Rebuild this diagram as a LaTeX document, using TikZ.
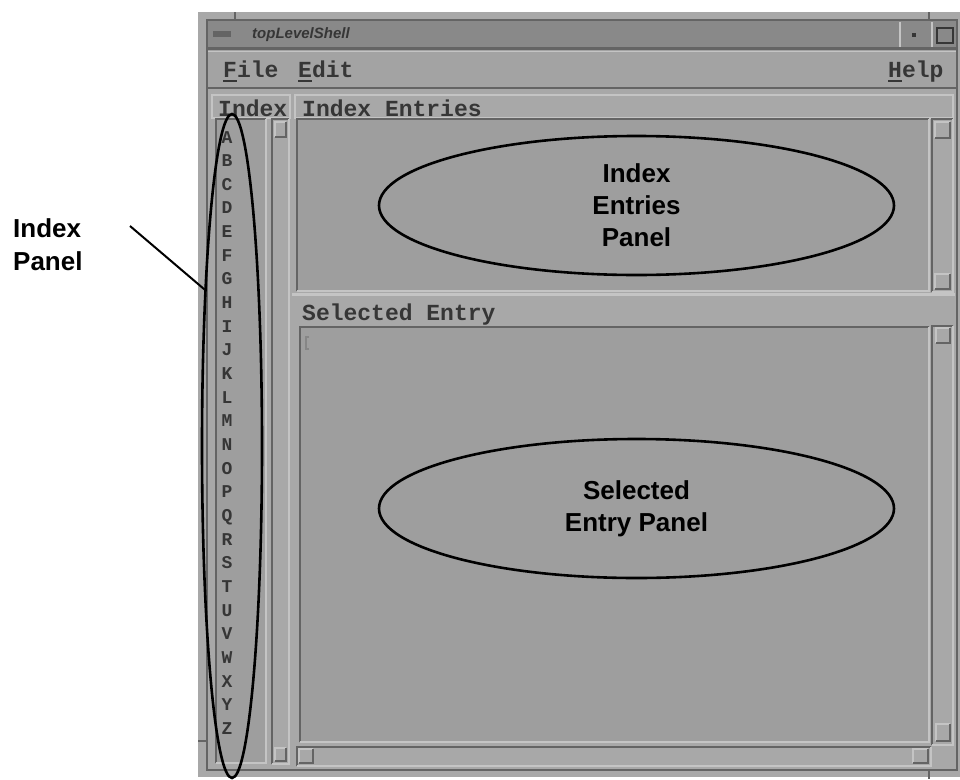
\documentclass[tikz,border=0pt]{standalone}
\usepackage{fontspec}
\usetikzlibrary{positioning}
\usetikzlibrary{shapes.geometric}

\newfontfamily\labelfont{Liberation Sans}
\newfontfamily\guifont{Liberation Mono}

\definecolor{winbg}{HTML}{9E9E9E}
\definecolor{framebg}{HTML}{A8A8A8}
\definecolor{menubg}{HTML}{A3A3A3}
\definecolor{titlebg}{HTML}{898989}
\definecolor{shadow}{HTML}{646464}
\definecolor{highlight}{HTML}{C4C4C4}
\definecolor{guitext}{HTML}{363636}

\begin{document}
\begin{tikzpicture}[x=1pt, y=-1pt,
    panelnode/.style={ellipse, draw, line width=2.6pt, inner sep=0pt, minimum width=515pt, minimum height=139pt, align=center, font=\labelfont\bfseries\fontsize{26}{32}\selectfont},
    sidenode/.style={ellipse, draw, line width=2.6pt, inner sep=0pt, minimum width=60pt, minimum height=664pt},
    calloutnode/.style={inner sep=0pt, align=left, font=\labelfont\bfseries\fontsize{26}{33}\selectfont},
    guilabel/.style={inner sep=0pt, text=guitext, font=\guifont\bfseries\fontsize{23}{23}\selectfont},
    idxletter/.style={inner sep=0pt, text=guitext, minimum height=23.26pt, text height=11pt, text depth=0pt, font=\guifont\bfseries\fontsize{18}{18}\selectfont},
    dark/.style={shadow, line width=2.5pt},
    light/.style={highlight, line width=2.5pt},
  ]
  \useasboundingbox (0,0) rectangle (960,779);
  \fill[white] (0,0) rectangle (960,779);

  % Window
  \fill[framebg] (198,12) rectangle (960,777);
  \draw[shadow, line width=2pt] (207,770) |- (957,20) -- (957,770) -- cycle;
  \draw[shadow, line width=1.5pt] (235,12) -- (235,20) (929,12) -- (929,20) (929,771) -- (929,779) (198,741) -- (206,741);
  \fill[titlebg] (208,21) rectangle (956,47);
  \draw[shadow, line width=3pt] (208,48.5) -- (956,48.5);
  \draw[highlight, line width=1.5pt] (900,22) -- (900,47) (932,22) -- (932,47);
  \fill[shadow] (213,31) rectangle (231,37);
  \node[inner sep=0pt, anchor=base west, text=guitext, font=\labelfont\bfseries\itshape\fontsize{15}{15}\selectfont] (title) at (252,38) {topLevelShell};
  \fill[guitext] (912,33) rectangle (916,37);
  \draw[guitext, line width=2pt] (937,28) rectangle (953,43);

  % Menu bar
  \fill[menubg] (208,50) rectangle (956,87);
  \draw[highlight, line width=1.5pt] (208,51.5) -- (956,51.5);
  \draw[shadow, line width=2.5pt] (208,88) -- (956,88);
  \node[guilabel, anchor=base west] (menu_file) at (223,77) {File};
  \node[guilabel, anchor=base west] (menu_edit) at (298,77) {Edit};
  \node[guilabel, anchor=base west] (menu_help) at (888,77) {Help};
  \draw[guitext, line width=1.8pt] (223,81) -- (237,81) (298,81) -- (312,81) (888,81) -- (902,81);

  % Panel titles
  \draw[highlight, line width=1.5pt] (212,95) rectangle (290,118);
  \draw[highlight, line width=1.5pt] (295,95) rectangle (953,118);
  \node[guilabel, anchor=base west] (index_title) at (218,116) {Index};
  \node[guilabel, anchor=base west] (entries_title) at (302,116) {Index Entries};
  \node[guilabel, anchor=base west] (selected_title) at (302,320) {Selected Entry};

  % Index list and scroll bar
  \fill[winbg] (216,119) rectangle (266,763);
  \draw[dark] (216,763) |- (266,119);
  \draw[light] (216,763) -| (266,119);
  \draw[dark] (272,764) |- (289,119);
  \draw[light] (272,764) -| (289,119);
  \draw[light, line width=1.5pt] (275,137) |- (286,122);
  \draw[dark, line width=1.5pt] (275,137) -| (286,122);
  \draw[light, line width=1.5pt] (275,761) |- (286,748);
  \draw[dark, line width=1.5pt] (275,761) -| (286,748);

  % Index entries list and scroll bar
  \fill[winbg] (297,119) rectangle (929,291);
  \draw[dark] (297,291) |- (929,119);
  \draw[light] (297,291) -| (929,119);
  \draw[dark] (932,292) |- (953,119);
  \draw[light] (932,292) -| (953,119);
  \draw[light, line width=1.5pt] (935,138) |- (950,122);
  \draw[dark, line width=1.5pt] (935,138) -| (950,122);
  \draw[light, line width=1.5pt] (935,289) |- (950,274);
  \draw[dark, line width=1.5pt] (935,289) -| (950,274);
  \draw[highlight, line width=3pt] (292,294) -- (955,294);

  % Selected entry area and scroll bars
  \fill[winbg] (300,327) rectangle (929,742);
  \draw[dark] (300,742) |- (929,327);
  \draw[light] (300,742) -| (929,327);
  \draw[guitext!60, line width=1.2pt] (309,337) -| (306,349) -- (309,349);
  \draw[dark] (932,745) |- (953,326);
  \draw[light] (932,745) -| (953,326);
  \draw[light, line width=1.5pt] (936,343) |- (950,328);
  \draw[dark, line width=1.5pt] (936,343) -| (950,328);
  \draw[light, line width=1.5pt] (936,741) |- (950,724);
  \draw[dark, line width=1.5pt] (936,741) -| (950,724);
  \draw[dark] (297,766) |- (931,747);
  \draw[light] (297,766) -| (931,747);
  \draw[light, line width=1.5pt] (299,763) |- (313,749);
  \draw[dark, line width=1.5pt] (299,763) -| (313,749);
  \draw[light, line width=1.5pt] (913,763) |- (928,749);
  \draw[dark, line width=1.5pt] (913,763) -| (928,749);

  % Nodes
  \node[idxletter] (idx_A) at (227,137.5) {A};
  \node[idxletter] (idx_B) [below=0pt of idx_A] {B};
  \node[idxletter] (idx_C) [below=0pt of idx_B] {C};
  \node[idxletter] (idx_D) [below=0pt of idx_C] {D};
  \node[idxletter] (idx_E) [below=0pt of idx_D] {E};
  \node[idxletter] (idx_F) [below=0pt of idx_E] {F};
  \node[idxletter] (idx_G) [below=0pt of idx_F] {G};
  \node[idxletter] (idx_H) [below=0pt of idx_G] {H};
  \node[idxletter] (idx_I) [below=0pt of idx_H] {I};
  \node[idxletter] (idx_J) [below=0pt of idx_I] {J};
  \node[idxletter] (idx_K) [below=0pt of idx_J] {K};
  \node[idxletter] (idx_L) [below=0pt of idx_K] {L};
  \node[idxletter] (idx_M) [below=0pt of idx_L] {M};
  \node[idxletter] (idx_N) [below=0pt of idx_M] {N};
  \node[idxletter] (idx_O) [below=0pt of idx_N] {O};
  \node[idxletter] (idx_P) [below=0pt of idx_O] {P};
  \node[idxletter] (idx_Q) [below=0pt of idx_P] {Q};
  \node[idxletter] (idx_R) [below=0pt of idx_Q] {R};
  \node[idxletter] (idx_S) [below=0pt of idx_R] {S};
  \node[idxletter] (idx_T) [below=0pt of idx_S] {T};
  \node[idxletter] (idx_U) [below=0pt of idx_T] {U};
  \node[idxletter] (idx_V) [below=0pt of idx_U] {V};
  \node[idxletter] (idx_W) [below=0pt of idx_V] {W};
  \node[idxletter] (idx_X) [below=0pt of idx_W] {X};
  \node[idxletter] (idx_Y) [below=0pt of idx_X] {Y};
  \node[idxletter] (idx_Z) [below=0pt of idx_Y] {Z};

  \node[panelnode]   (entries_panel)  at (636.5,205.5) {Index\\Entries\\Panel};
  \node[panelnode]   (selected_panel) at (636.5,508.5) {Selected\\Entry Panel};
  \node[sidenode]    (index_panel)    at (232,446)     {};
  \node[calloutnode, anchor=west] (index_label) at (13,244.5) {Index\\Panel};
  \coordinate (label_tip) at (130,226);

  %Lines
  \draw[line width=2pt] (label_tip) -- (index_panel.100.7);
\end{tikzpicture}
\end{document}
